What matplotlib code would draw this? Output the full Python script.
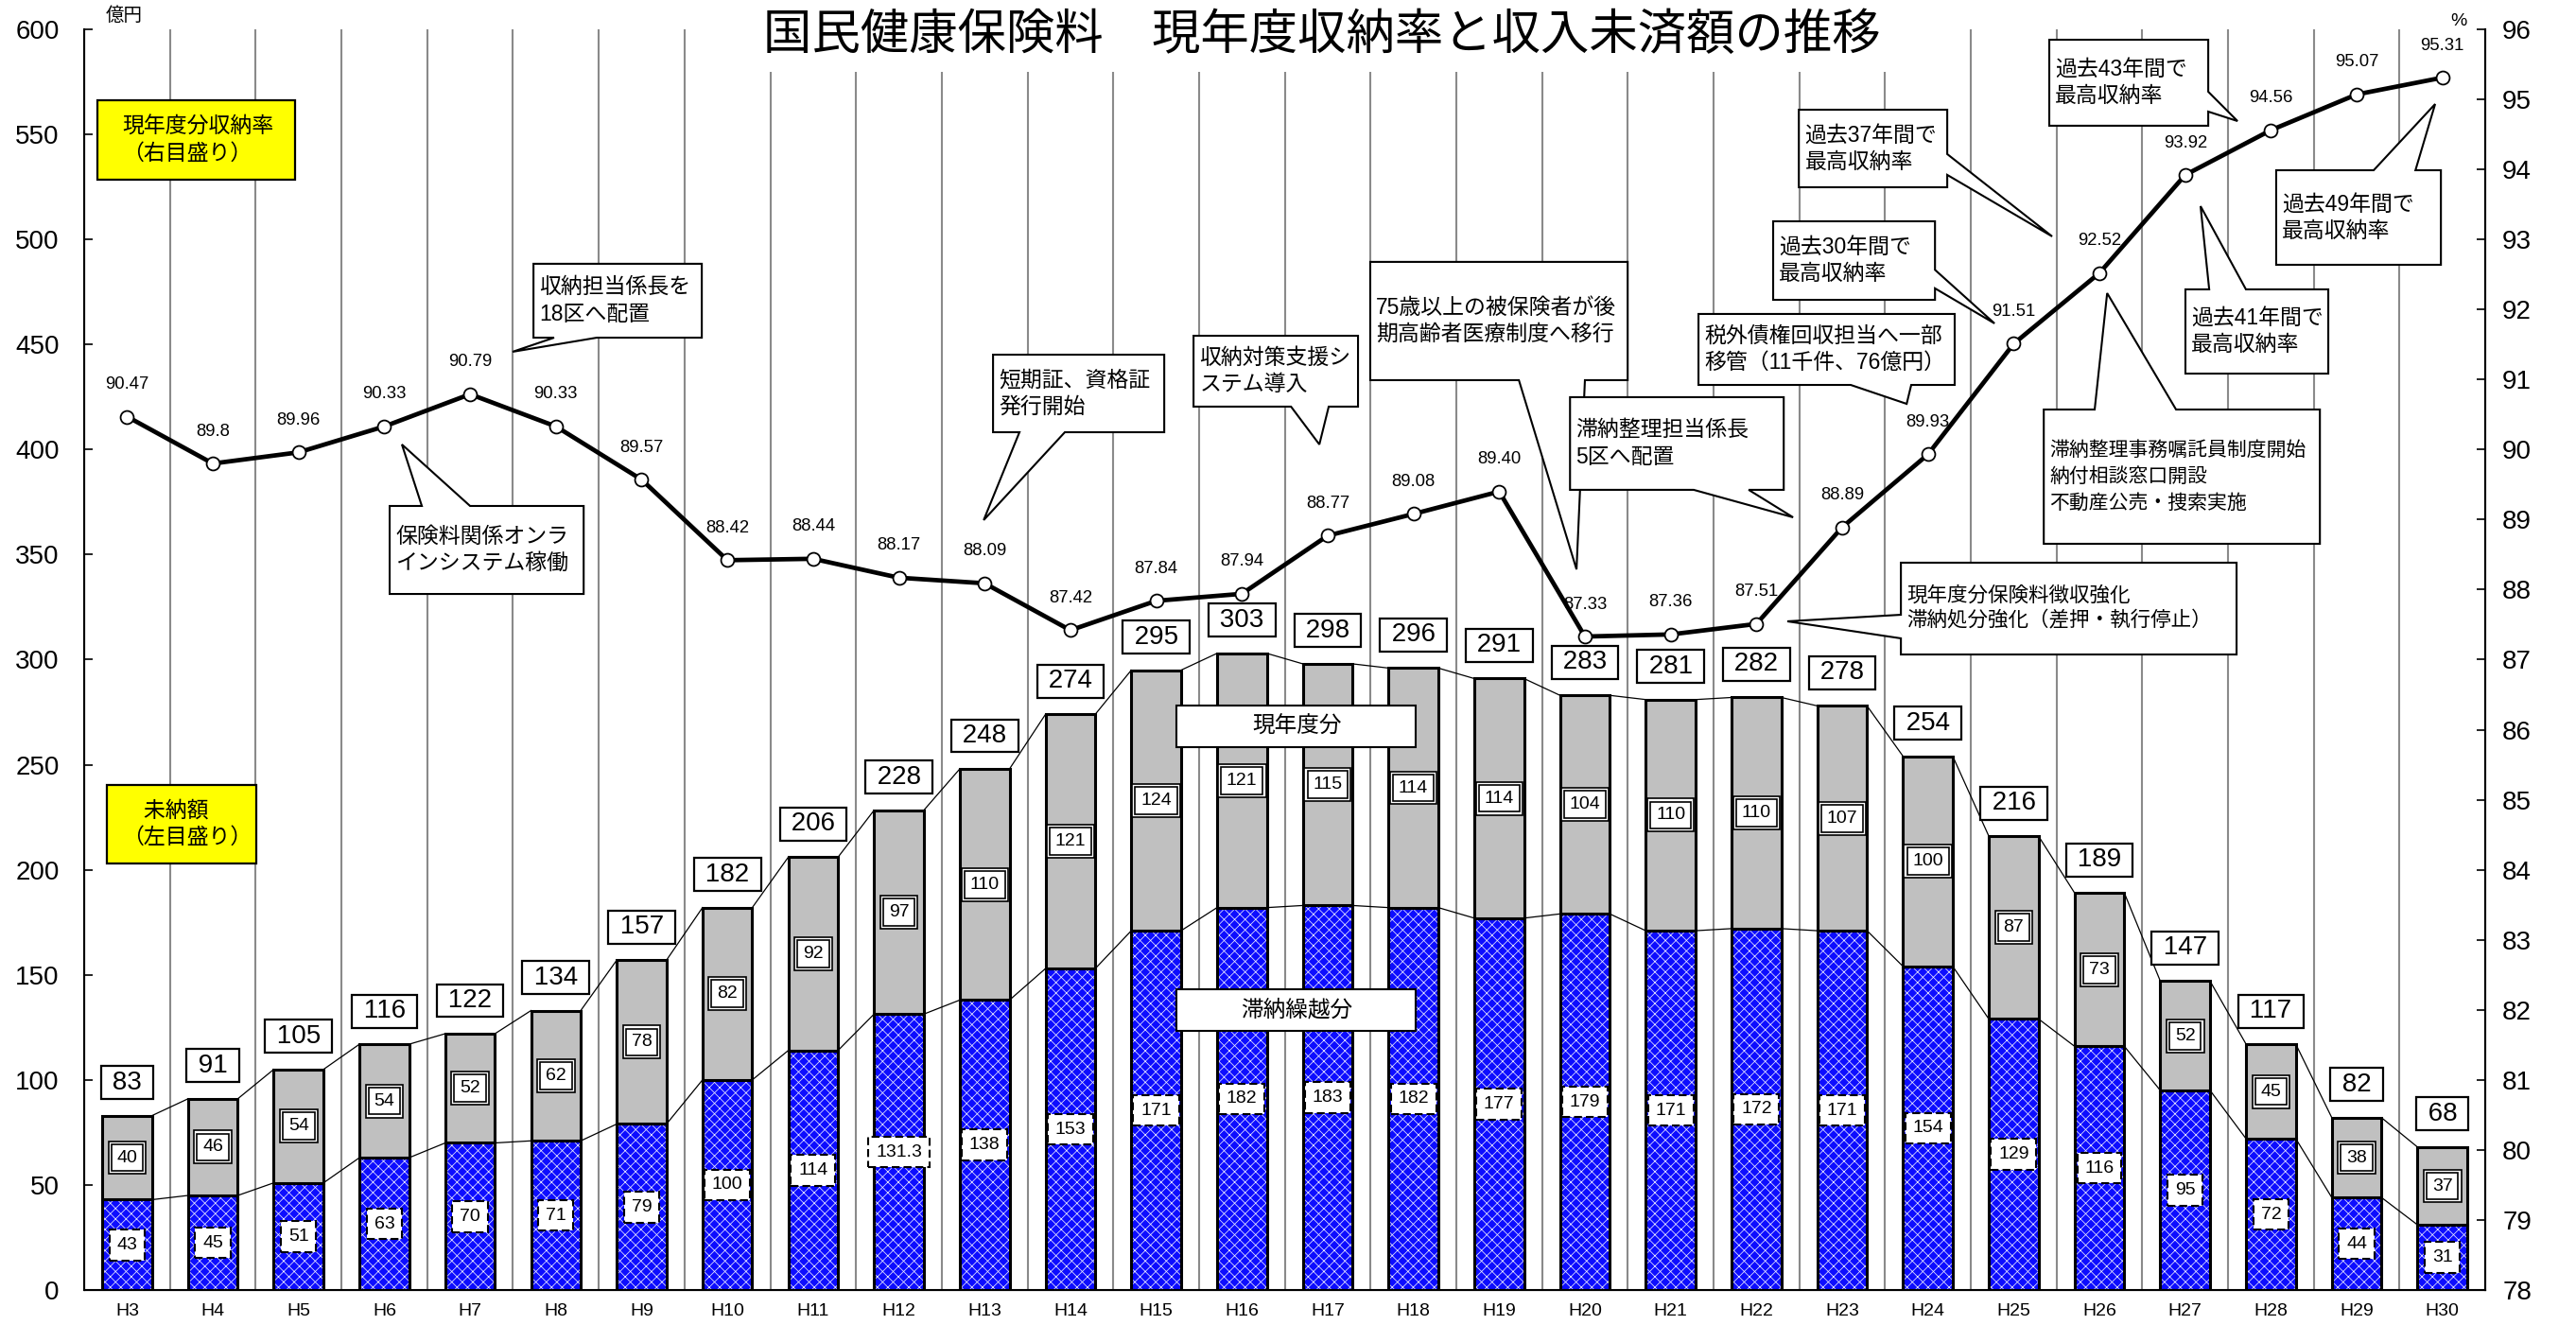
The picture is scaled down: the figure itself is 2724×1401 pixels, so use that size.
import numpy as np
import matplotlib.pyplot as plt
from matplotlib.patches import Rectangle, Polygon

plt.rcParams['font.family'] = ['Liberation Sans', 'Noto Sans CJK JP', 'DejaVu Sans']
plt.rcParams['hatch.linewidth'] = 0.55

# 年度
years = ['H3', 'H4', 'H5', 'H6', 'H7', 'H8', 'H9', 'H10', 'H11', 'H12', 'H13', 'H14',
         'H15', 'H16', 'H17', 'H18', 'H19', 'H20', 'H21', 'H22', 'H23', 'H24',
         'H25', 'H26', 'H27', 'H28', 'H29', 'H30']
# 未納額 合計（億円）
total = [83, 91, 105, 116, 122, 134, 157, 182, 206, 228, 248, 274, 295, 303,
         298, 296, 291, 283, 281, 282, 278, 254, 216, 189, 147, 117, 82, 68]
# 現年度分（億円）
current = [40, 46, 54, 54, 52, 62, 78, 82, 92, 97, 110, 121, 124, 121,
           115, 114, 114, 104, 110, 110, 107, 100, 87, 73, 52, 45, 38, 37]
# 滞納繰越分（億円）
arrears = [43, 45, 51, 63, 70, 71, 79, 100, 114, 131.3, 138, 153, 171, 182,
           183, 182, 177, 179, 171, 172, 171, 154, 129, 116, 95, 72, 44, 31]
# 現年度分収納率（%）
rate = [90.47, 89.80, 89.96, 90.33, 90.79, 90.33, 89.57, 88.42, 88.44, 88.17,
        88.09, 87.42, 87.84, 87.94, 88.77, 89.08, 89.40, 87.33, 87.36, 87.51,
        88.89, 89.93, 91.51, 92.52, 93.92, 94.56, 95.07, 95.31]
rate_labels = ['90.47', '89.8', '89.96', '90.33', '90.79', '90.33', '89.57', '88.42',
               '88.44', '88.17', '88.09', '87.42', '87.84', '87.94', '88.77', '89.08',
               '89.40', '87.33', '87.36', '87.51', '88.89', '89.93', '91.51', '92.52',
               '93.92', '94.56', '95.07', '95.31']

# 吹き出し: 文字, 左, 上, 右, 下, 辺, 付け根1, 付け根2, 先端(x, y), 文字サイズ, 行間
callouts = [
    ('収納担当係長を\n18区へ配置', 0.1871, 0.8140, 0.2572, 0.7554,
     'bottom', 0.1957, 0.2135, (0.1784, 0.7442), 16.5, 1.3),
    ('保険料関係オンラ\nインシステム稼働', 0.1272, 0.6219, 0.2080, 0.5521,
     'top', 0.1406, 0.1607, (0.1323, 0.6707), 16.5, 1.3),
    ('短期証、資格証\n発行開始', 0.3785, 0.7419, 0.4498, 0.6804,
     'bottom', 0.3895, 0.4084, (0.3746, 0.6107), 16.5, 1.3),
    ('収納対策支援シ\nステム導入', 0.4620, 0.7569, 0.5305, 0.7007,
     'bottom', 0.5026, 0.5183, (0.5144, 0.6707), 16.5, 1.3),
    ('75歳以上の被保険者が後\n期高齢者医療制度へ移行', 0.5356, 0.8155, 0.6428, 0.7217,
     'bottom', 0.5975, 0.6250, (0.6215, 0.5716), 16.5, 1.3),
    ('滞納整理担当係長\n5区へ配置', 0.6188, 0.7082, 0.7078, 0.6347,
     'bottom', 0.6703, 0.6932, (0.7117, 0.6129), 16.5, 1.3),
    ('税外債権回収担当へ一部\n移管（11千件、76億円）', 0.6723, 0.7742, 0.7790, 0.7179,
     'bottom', 0.7357, 0.7609, (0.7590, 0.7029), 16.5, 1.3),
    ('過去30年間で\n最高収納率', 0.7034, 0.8477, 0.7708, 0.7854,
     'right', 0.8092, 0.7945, (0.7956, 0.7667), 16.5, 1.3),
    ('過去37年間で\n最高収納率', 0.7141, 0.9362, 0.7759, 0.8747,
     'right', 0.9010, 0.8845, (0.8196, 0.8357), 16.5, 1.3),
    ('過去43年間で\n最高収納率', 0.8184, 0.9917, 0.8846, 0.9235,
     'right', 0.9505, 0.9347, (0.8968, 0.9272), 16.5, 1.3),
    ('過去41年間で\n最高収納率', 0.8751, 0.7937, 0.9346, 0.7269,
     'top', 0.8850, 0.9003, (0.8814, 0.8597), 16.5, 1.3),
    ('過去49年間で\n最高収納率', 0.9129, 0.8882, 0.9815, 0.8132,
     'top', 0.9535, 0.9709, (0.9791, 0.9407), 16.5, 1.3),
    ('滞納整理事務嘱託員制度開始\n納付相談窓口開設\n不動産公売・捜索実施',
     0.8161, 0.6984, 0.9311, 0.5919,
     'top', 0.8373, 0.8712, (0.8425, 0.7907), 15, 1.5),
    ('現年度分保険料徴収強化\n滞納処分強化（差押・執行停止）', 0.7566, 0.5769, 0.8964, 0.5041,
     'left', 0.5356, 0.5169, (0.7093, 0.5304), 15.5, 1.35),
]

# 黄色の説明ボックス: 文字, 左, 下, 幅, 高さ, 文字の中心y
notes = [
    ('現年度分収納率\n（右目盛り）', 0.0055, 0.8807, 0.0823, 0.0630, 0.9122),
    ('　未納額\n（左目盛り）', 0.0095, 0.3383, 0.0622, 0.0623, 0.3698),
]


def bubble(ax, text, l, t, r, b, side, b0, b1, tip, fs, ls, z):
    if side == 'bottom':
        pts = [(l, t), (r, t), (r, b), (b1, b), tip, (b0, b), (l, b)]
    elif side == 'top':
        pts = [(l, t), (b0, t), tip, (b1, t), (r, t), (r, b), (l, b)]
    elif side == 'right':
        pts = [(l, t), (r, t), (r, b0), tip, (r, b1), (r, b), (l, b)]
    else:
        pts = [(l, t), (r, t), (r, b), (l, b), (l, b1), tip, (l, b0)]
    ax.add_patch(Polygon(pts, closed=True, transform=ax.transAxes, fc='white',
                         ec='black', lw=1.5, zorder=z, clip_on=False))
    ax.text(l + 0.0025, (t + b) / 2, text, transform=ax.transAxes, ha='left',
            va='center', fontsize=fs, linespacing=ls, zorder=z + 0.5)


fig = plt.figure(figsize=(27.24, 14.01), dpi=100)
ax = fig.add_axes([0.0327, 0.0264, 0.9321, 0.9515])

x = np.arange(len(years))
w = 0.58
tops = np.array(arrears) + np.array(current)

# 棒グラフ（滞納繰越分 + 現年度分）
ax.bar(x, arrears, w, color='#0d0dff', hatch='xxx', edgecolor='#e8e8ff', linewidth=0, zorder=2)
ax.bar(x, arrears, w, fill=False, edgecolor='black', linewidth=2.2, zorder=3)
ax.bar(x, current, w, bottom=arrears, color='#c0c0c0', edgecolor='black', linewidth=2.2, zorder=3)

# 区分線
for i in range(len(x) - 1):
    xs = [x[i] + w / 2, x[i + 1] - w / 2]
    ax.plot(xs, [tops[i], tops[i + 1]], color='black', lw=0.9, zorder=2.5)
    ax.plot(xs, [arrears[i], arrears[i + 1]], color='black', lw=0.9, zorder=2.5)

# データラベル
for i in range(len(x)):
    ax.annotate(' %d ' % total[i], (x[i], tops[i]), xytext=(0, 35), textcoords='offset pixels',
                ha='center', va='center', fontsize=20, zorder=6,
                bbox=dict(boxstyle='square,pad=0.16', fc='white', ec='black', lw=1.6))
    ym = arrears[i] + current[i] / 2
    ax.text(x[i], ym, str(current[i]), ha='center', va='center', fontsize=14, zorder=5,
            bbox=dict(boxstyle='square,pad=0.46', fc='white', ec='black', lw=1.2))
    ax.text(x[i], ym, str(current[i]), ha='center', va='center', fontsize=14, zorder=5.5,
            bbox=dict(boxstyle='square,pad=0.3', fc='white', ec='black', lw=1.2))
    ax.text(x[i], arrears[i] / 2, '{:g}'.format(arrears[i]), ha='center', va='center',
            fontsize=14, zorder=5,
            bbox=dict(boxstyle='square,pad=0.4', fc='white', ec='black', lw=1.5,
                      linestyle=(0, (4, 2))))

ax.set_xlim(-0.5, len(x) - 0.5)
ax.set_ylim(0, 600)
ax.set_yticks(np.arange(0, 601, 50))
ax.set_xticks(x)
ax.set_xticklabels(years)
ax.set_xticks(x[:-1] + 0.5, minor=True)
ax.grid(which='minor', axis='x', color='#8a8a8a', lw=1.5, zorder=0)
ax.set_axisbelow(True)
ax.tick_params(axis='y', direction='in', length=6.5, width=1.2, labelsize=20, pad=19)
ax.tick_params(axis='x', which='both', length=0, labelsize=14, pad=10)
ax.spines['top'].set_visible(False)
for s in ['left', 'bottom', 'right']:
    ax.spines[s].set_linewidth(1.5)

# 凡例ボックス
for label, yc in [('現年度分', 0.447), ('滞納繰越分', 0.222)]:
    ax.add_patch(Rectangle((0.455, yc - 0.0165), 0.0996, 0.033, transform=ax.transAxes,
                           fc='white', ec='black', lw=1.5, zorder=7))
    ax.text(0.505, yc, label, transform=ax.transAxes, ha='center', va='center',
            fontsize=17, zorder=7.5)

# 収納率（右軸）
ax2 = ax.twinx()
ax2.set_ylim(78, 96)
ax2.set_yticks(np.arange(78, 97, 1))
ax2.tick_params(axis='y', direction='in', length=6.5, width=1.2, labelsize=20, pad=13)
ax2.spines['top'].set_visible(False)
ax2.spines['right'].set_linewidth(1.5)
ax2.plot(x, rate, color='black', lw=3.4, marker='o', ms=10, mfc='white', mec='black',
         mew=1.3, zorder=4)
for i in range(len(x)):
    ax2.annotate(rate_labels[i], (x[i], rate[i]), xytext=(0, 34), textcoords='offset pixels',
                 ha='center', va='center', fontsize=13.3, zorder=4)

# 黄色の説明ボックス
for text, l, b, bw, bh, yc in notes:
    ax2.add_patch(Rectangle((l, b), bw, bh, transform=ax2.transAxes, fc='#ffff00',
                            ec='black', lw=1.6, zorder=8))
    ax2.text(0.0158, yc, text, transform=ax2.transAxes, ha='left', va='center',
             fontsize=16.5, linespacing=1.3, zorder=8.5)

# 吹き出し
for k, c in enumerate(callouts):
    bubble(ax2, *c, z=10 + 2 * k)

# 単位
ax.text(0.009, 1.004, '億円', transform=ax.transAxes, ha='left', va='bottom', fontsize=14)
ax.text(0.989, 1.0, '%', transform=ax.transAxes, ha='center', va='bottom', fontsize=14)

# タイトル
fig.add_artist(Rectangle((760 / 2724, 1 - 76 / 1401), 1280 / 2724, 76 / 1401,
                         transform=fig.transFigure, fc='white', ec='none', zorder=30))
fig.text(0.5132, 0.9722, '国民健康保険料　現年度収納率と収入未済額の推移', fontsize=37,
         ha='center', va='center', zorder=31)

fig.savefig('out.png', dpi=100)
